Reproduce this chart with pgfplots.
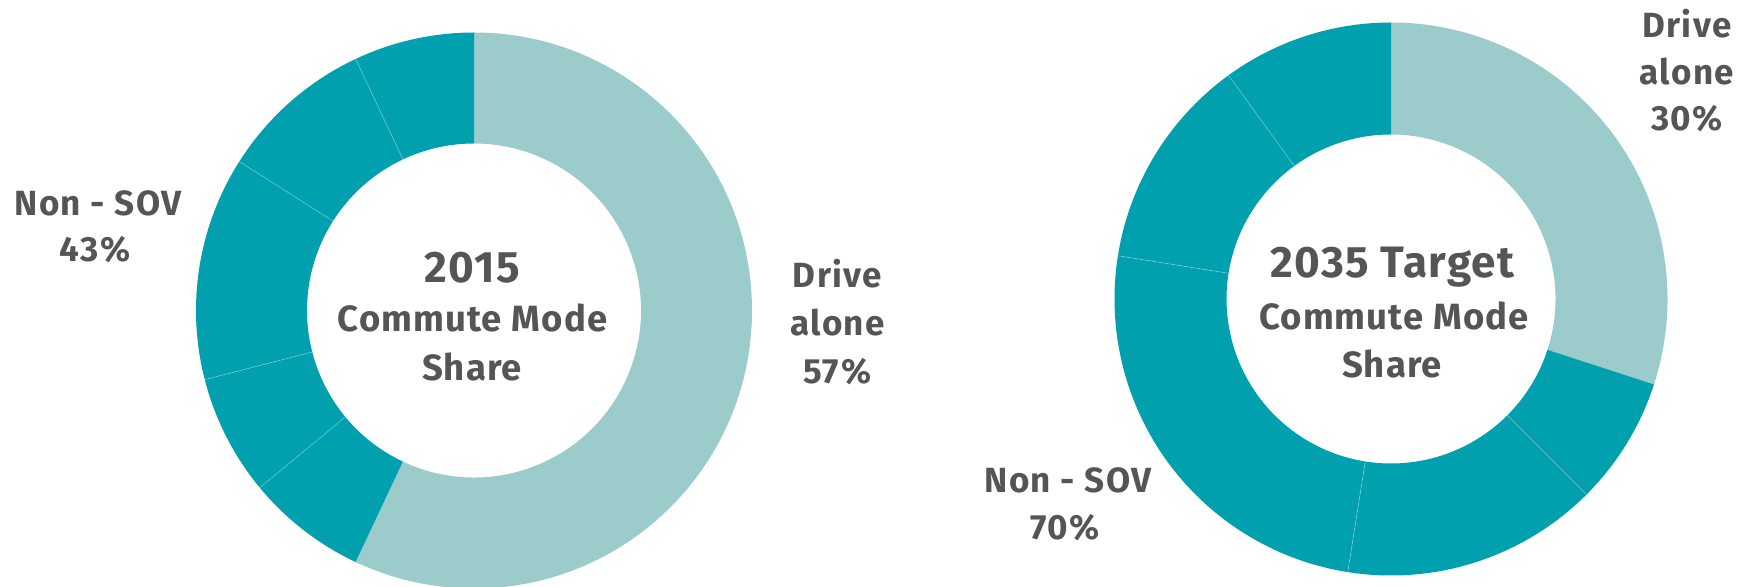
\documentclass[border=0pt]{standalone}
\usepackage{fontspec}
\setmainfont{Fira Sans}
\usepackage{pgfplots}
\usepackage{pgfplotstable}
\pgfplotsset{compat=1.18}
\definecolor{lightc}{HTML}{9CCBCC}
\definecolor{darkc}{HTML}{00A0AE}
\definecolor{txt}{HTML}{555555}

% shares clockwise from 12 o'clock; first row = Drive alone
\pgfplotstableread{
share
57
7
7
13
9
7
}\lefttab
\pgfplotstableread{
share
30
7.5
15
25
12.5
10
}\righttab

% #1 table, #2 cx, #3 cy, #4 R, #5 r
\newcommand\donut[5]{%
  \pgfplotstablegetrowsof{#1}%
  \pgfmathtruncatemacro\nrows{\pgfplotsretval-1}%
  \gdef\acc{0}%
  \foreach \i in {0,...,\nrows}{%
    \pgfplotstablegetelem{\i}{share}\of{#1}%
    \let\v\pgfplotsretval
    \pgfmathsetmacro\a{90-3.6*\acc}%
    \pgfmathsetmacro\b{90-3.6*(\acc+\v)}%
    \pgfmathsetmacro\dr{#4-#5}%
    \ifnum\i=0 \def\cc{lightc}\else\def\cc{darkc}\fi
    \fill[\cc] (axis cs:#2,#3) ++(\a:#4pt) arc[start angle=\a, end angle=\b, radius=#4pt]
      -- ++(\b:-\dr pt) arc[start angle=\b, end angle=\a, radius=#5pt] -- cycle;
    \ifnum\i>1
      \draw[white, opacity=0.3, line width=0.7pt] (axis cs:#2,#3) ++(\a:#5pt) -- ++(\a:\dr pt);
    \fi
    \pgfmathsetmacro\newacc{\acc+\v}%
    \xdef\acc{\newacc}%
  }%
}

\newcommand\labf{\bfseries\fontsize{35}{42}\selectfont\addfontfeature{LetterSpace=4}}
\newcommand\midf{\bfseries\fontsize{36.5}{44}\selectfont\addfontfeature{LetterSpace=3}}
\newcommand\yrf{\bfseries\fontsize{44}{52}\selectfont\addfontfeature{LetterSpace=3}}

\begin{document}
\begin{tikzpicture}
\begin{axis}[x=1pt, y=1pt, xmin=0, xmax=1755, ymin=0, ymax=586,
  hide axis, clip=false, scale only axis]
\coordinate (BL) at (axis cs:0,0);
\coordinate (TR) at (axis cs:1755,586);
\pgfplotsextra{\donut{\lefttab}{474}{275.5}{278}{167}}
\pgfplotsextra{\donut{\righttab}{1391}{287}{276.5}{164.5}}

\begin{scope}[every node/.style={text=txt, anchor=base, inner sep=0pt}]
% left
\node[font=\yrf] at (axis cs:472,303) {2015};
\node[font=\midf] at (axis cs:472.5,254) {Commute Mode};
\node[font=\midf] at (axis cs:472,205) {Share};
\node[font=\labf] at (axis cs:837.5,298) {Drive};
\node[font=\labf] at (axis cs:837.5,250.3) {alone};
\node[font=\labf] at (axis cs:837.5,202.3) {57\%};
\node[font=\labf] at (axis cs:98,370.5) {Non - SOV};
\node[font=\labf] at (axis cs:95,324.5) {43\%};
% right
\node[font=\yrf] at (axis cs:1392.5,308.5) {2035 Target};
\node[font=\midf] at (axis cs:1394,256.5) {Commute Mode};
\node[font=\midf] at (axis cs:1392,208) {Share};
\node[font=\labf] at (axis cs:1687,548.5) {Drive};
\node[font=\labf] at (axis cs:1687,501.5) {alone};
\node[font=\labf] at (axis cs:1687,455.5) {30\%};
\node[font=\labf] at (axis cs:1068,93.5) {Non - SOV};
\node[font=\labf] at (axis cs:1065,46) {70\%};
\end{scope}
\end{axis}
\pgfresetboundingbox
\path[use as bounding box] (BL) rectangle (TR);
\end{tikzpicture}
\end{document}
